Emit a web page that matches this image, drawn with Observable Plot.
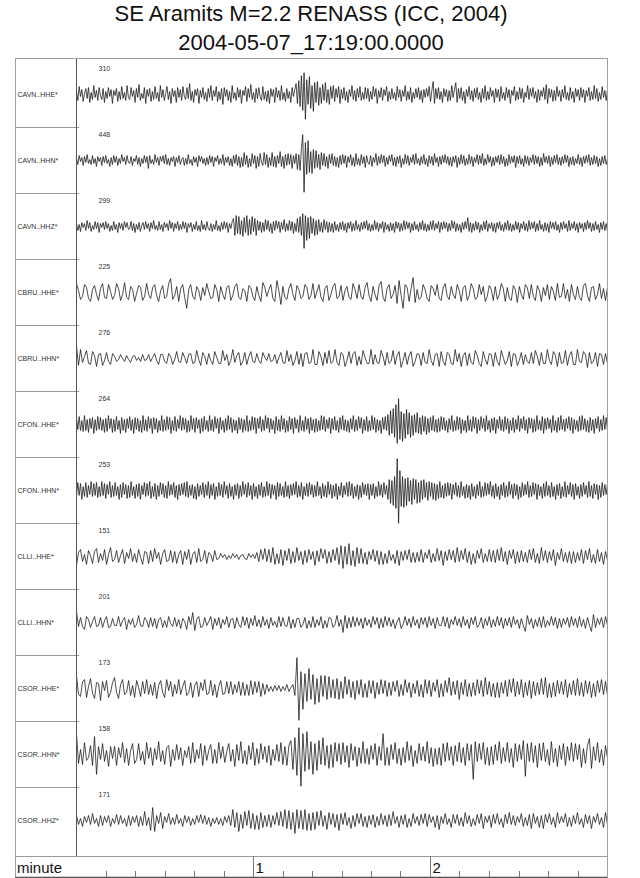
<!DOCTYPE html>
<html>
<head>
<meta charset="utf-8">
<script src="https://cdn.jsdelivr.net/npm/d3@7"></script>
<script src="https://cdn.jsdelivr.net/npm/@observablehq/plot@0.6"></script>
<style>
  html, body { margin: 0; padding: 0; background: #fff; }
  body { font-family: "Liberation Sans", Arial, Helvetica, sans-serif; width: 640px; }
  #head { height: 56px; width: 622px; text-align: center; color: #111; }
  #head .t1 { font-size: 22px; line-height: 28px; }
  #head .t2 { font-size: 22px; line-height: 26px; margin-top: 2px; }
  #chart svg { display: block; }
</style>
</head>
<body>
<div id="head">
  <div class="t1">SE Aramits M=2.2 RENASS (ICC, 2004)</div>
  <div class="t2">2004-05-07_17:19:00.0000</div>
</div>
<div id="chart"></div>
<script>
// Record length in minutes, starting at 2004-05-07 17:19:00
const durationMinutes = 3;

// Channel names, top to bottom
const channels = [
  "CAVN..HHE*", "CAVN..HHN*", "CAVN..HHZ*",
  "CBRU..HHE*", "CBRU..HHN*",
  "CFON..HHE*", "CFON..HHN*",
  "CLLI..HHE*", "CLLI..HHN*",
  "CSOR..HHE*", "CSOR..HHN*", "CSOR..HHZ*"
];

// Peak amplitude printed above each trace
const peakAmplitudes = [310, 448, 299, 225, 276, 264, 253, 151, 201, 173, 158, 171];

// Trace samples (normalised display units, evenly spaced over the record;
// the broadband CAVN and CFON channels are kept at a finer step)
const cavnHHE = [
  3,-6,8,-2,5,-7,1,6,-4,7,-8,2,-5,9,-3,4,-6,7,-1,-5,
  6,-8,3,-4,7,-2,5,-9,4,-1,6,-7,3,-5,8,-4,2,-6,9,-3,
  -5,7,-2,4,-8,6,-3,10,-6,1,-4,7,-9,5,-2,6,-7,3,-5,8,
  -4,2,-7,9,-3,5,-6,1,8,-5,3,-9,6,-2,4,-8,7,-3,5,-6,
  8,-2,-5,7,-4,11,-6,3,-8,5,-1,6,-9,4,-3,7,-5,2,-7,6,
  -3,9,-6,4,-2,8,-7,3,-5,6,-10,7,-2,5,-6,3,-8,9,-4,2,
  -6,7,-3,5,-9,4,-1,8,-7,6,-3,10,-5,2,-8,6,-4,7,-2,-6,
  8,-5,3,-7,4,-9,6,-2,5,-8,7,-3,4,-6,9,-5,2,-7,6,-4,
  3,-8,7,-2,5,11,-9,14,-12,19,-16,22,-25,15,-10,18,-14,9,-17,12,
  -8,13,-11,7,-9,10,-6,12,-8,5,-10,8,-4,9,-7,6,-3,8,-9,5,
  -4,7,-6,3,-8,5,-2,9,-5,4,-7,6,-3,8,-6,2,-5,7,-4,6,
  -7,3,-5,8,-2,6,-9,4,-3,7,-6,5,-1,8,-7,3,-5,6,-4,2,
  -6,8,-3,5,-7,4,-2,9,-6,3,-5,7,-8,2,-4,6,-3,7,-5,4,
  -8,5,-3,6,-2,8,-7,4,13,-9,6,-4,7,-5,3,-8,6,-2,5,-7,
  4,-6,9,-3,5,12,-8,6,-4,7,-6,3,-9,5,-2,8,-5,4,-7,6,
  -3,7,-5,2,-8,6,-4,9,-6,3,-5,7,-2,4,-8,6,-3,5,-7,8,
  -4,2,-6,7,-3,5,-9,4,-1,8,-6,3,-5,7,-4,6,-8,2,-3,9,
  -5,6,-2,7,-4,3,-8,5,-6,4,-2,7,-5,10,-9,6,-3,5,-7,4,
  -6,8,-2,4,-7,5,-3,9,-5,2,-6,7,-4,3,-8,6,-2,5,-6,7,
  -3,5,-8,4,-2,7,-6,3,-5,9,-4,6,-7,2,-5,8,-3,4,-6,5
];
const cavnHHN = [
  2,-4,5,-1,3,-5,4,-2,6,-3,1,-4,5,-3,2,-6,4,-1,3,-5,
  4,-2,5,-3,1,-6,3,-4,5,-2,4,-5,2,-3,6,-1,3,-4,5,-2,
  -3,4,-5,2,-1,5,-4,3,-6,2,-3,5,-2,4,-8,5,-3,1,-4,6,
  -2,3,-5,4,-1,5,-3,6,-4,2,-5,3,-1,4,-6,3,-2,5,-4,1,
  3,-5,2,-4,6,-3,1,-5,4,-2,3,-6,5,-1,4,-3,2,-5,3,-4,
  5,-2,4,-6,3,-1,5,-4,2,-3,6,-5,3,-2,4,-5,2,-6,5,-3,
  6,-5,4,-7,3,-6,8,-4,5,-7,2,-6,7,-3,5,-8,4,-6,7,-2,
  -5,8,-4,6,-7,3,-5,8,-6,4,-7,5,-3,9,-6,4,-8,6,-5,7,
  -4,6,-8,5,-3,7,-9,6,-10,12,26,-32,18,-14,20,-12,9,-13,11,-8,
  10,-7,6,-9,8,-5,7,-6,4,-8,6,-3,7,-5,4,-6,3,-7,5,-4,
  6,-3,5,-7,4,-2,6,-5,3,-6,7,-4,2,-5,6,-3,4,-7,5,-2,
  -4,5,-6,3,-2,7,-5,4,-3,6,-2,5,-6,3,-4,5,-1,6,-5,3,
  -6,4,-3,5,-7,2,-4,6,-3,5,-5,3,-2,6,-4,7,-3,2,-5,4,
  -3,6,-4,2,-6,5,-3,4,-5,7,-2,3,-6,4,-4,5,-2,6,-3,4,
  -5,3,-6,4,-2,5,-7,3,-4,6,-3,5,-5,2,-4,6,-3,4,-6,3,
  -2,6,-4,5,-3,7,-5,2,-4,6,-2,4,-6,3,-5,4,-2,5,-4,6,
  -3,4,-6,2,-5,6,-3,4,-2,5,-7,4,-3,5,-4,2,-6,5,-3,4,
  -5,3,-2,6,-4,5,-3,4,-6,3,-5,7,-2,4,-3,5,-6,3,-4,5,
  -2,6,-4,3,-5,4,-3,6,-2,5,-6,3,-4,4,-5,2,-3,6,-4,3,
  -6,4,-3,5,-2,6,-5,3,-4,5,-3,4,-6,2,-5,4,-3,5,-4,2
];
const cavnHHZ = [
  3,-4,2,-5,4,-1,3,-4,6,-2,4,-5,1,-3,5,-2,4,-6,3,-1,
  4,-3,5,-2,3,-5,1,-4,5,-3,2,-6,4,-2,3,-4,5,-1,4,-3,
  -2,5,-4,3,-6,2,-3,4,-5,1,4,-3,5,-2,3,-5,4,-2,6,-3,
  1,-4,5,-3,2,-5,4,-1,3,-4,6,-2,4,-5,3,-2,5,-4,2,-3,
  5,-2,4,-6,3,-1,4,-5,2,-3,5,-4,1,-5,6,-3,2,-4,5,-2,
  -4,3,-5,2,-3,6,-4,1,-5,4,-3,5,-2,4,-6,3,-2,5,8,-9,
  11,-7,10,-8,6,-10,9,-6,11,-9,7,-8,10,-5,8,-9,6,-4,5,-6,
  4,-5,7,-3,6,-5,3,-7,5,-4,6,-2,5,-6,4,-3,7,-5,3,-4,
  6,-4,5,-7,3,-5,8,-6,10,-9,13,-22,11,-14,9,-12,10,-7,8,-9,
  6,-8,7,-5,4,-6,7,-3,5,-6,4,-5,3,-6,5,-4,2,-5,4,-3,
  5,-4,3,-6,4,-2,5,-5,3,-4,6,-3,2,-5,4,-3,5,-2,6,-4,
  3,-5,2,-4,6,-3,4,-5,3,-2,5,-6,4,-3,2,-5,4,-4,3,-6,
  5,-2,4,-5,3,-4,6,-3,5,-2,4,-6,3,-4,5,-3,2,-5,4,-3,
  6,-4,3,-5,2,-4,5,-3,6,-4,3,-2,5,-6,4,-3,5,-2,4,-5,
  3,-4,6,-2,5,-5,3,-4,2,-6,4,-3,5,-2,9,-5,4,-6,3,-4,
  5,-3,4,-6,2,-4,5,-3,6,-5,3,-2,4,-5,3,-6,4,-2,5,-4,
  2,-5,4,-3,6,-4,3,-5,2,-4,5,-3,4,-6,3,-2,5,-4,3,-5,
  6,-3,4,-2,5,-5,3,-4,6,-3,2,-5,4,-4,3,-6,5,-2,4,-3,
  5,-4,2,-6,4,-3,5,-2,3,-5,6,-4,3,-2,5,-4,3,-6,4,-2,
  3,-5,4,-3,6,-2,4,-5,3,-4,5,-3,2,-6,4,-3,5,-4,3,-5
];
const cbruHHE = [
  9,2,-7,-4,8,5,-6,-9,3,7,-2,-8,4,9,-5,-6,8,1,-7,
  -3,9,4,-8,-2,10,-5,-7,6,3,-9,-1,7,5,-8,-4,9,-2,-6,
  5,8,-3,-9,2,7,-6,-4,9,14,-7,-3,6,-9,4,8,-5,-16,3,
  8,-4,-7,6,2,-8,5,-3,9,1,-6,-5,8,3,-9,6,-2,-7,5,
  7,-8,-3,6,9,-5,-7,4,2,-9,7,5,-4,-8,6,-3,-9,10,5,
  -4,3,8,-6,-9,12,2,-12,6,-5,-7,4,9,-2,-8,7,3,-6,-4,
  8,5,-7,-3,9,-6,1,8,-5,-9,4,7,-8,-2,6,9,-6,-4,7,
  -8,2,6,-5,-7,9,3,-6,8,-4,-7,5,10,-3,-9,6,-2,-8,7,
  11,-5,-9,4,8,-6,-2,7,-11,12,-3,-16,8,5,-9,4,15,-10,3,
  -7,-5,8,3,-6,-9,7,4,-3,8,-6,-8,5,9,-4,-7,6,-2,-6,
  8,2,-9,5,7,-8,-3,9,4,-7,-5,8,-2,6,-9,-4,7,3,-8,
  6,-7,-2,9,4,-9,5,-6,-8,7,3,-10,6,-2,-7,8,5,-6,8,
  -4,-8,7,2,-9,5,-3,8,-7,6,1,-8,9,-5,-4,9,-6,3,-9,
  8,-2,-7,6,-5,-8,7,9,-3,-9,5,6,-7,-2,9,-6,4,-8,5
];
const cbruHHN = [
  13,-7,9,-4,2,8,-5,-6,7,3,-8,4,5,-7,-2,6,-3,-6,5,
  2,-3,-1,4,0,-3,3,-1,-4,2,3,-2,1,-3,4,-2,-1,4,-3,
  1,5,-2,-6,4,4,-3,-5,5,2,-6,-1,7,-3,-4,6,1,-5,4,
  5,-5,-4,8,-1,-7,6,2,-6,5,-2,-6,7,1,-5,-5,8,-2,4,
  -7,-2,9,-4,3,6,-7,-3,6,-6,2,7,-3,-4,5,-2,-5,6,1,
  -2,5,-3,-2,4,-5,1,6,-4,-5,8,-3,4,-7,-2,7,-6,5,-8,
  5,6,-5,-4,9,-6,-6,7,2,-7,6,-5,8,-5,-3,9,-4,-7,6,
  4,-8,-2,7,-5,5,7,-7,2,-6,8,1,-5,-5,9,-6,4,-4,-5,
  8,2,-7,6,-5,-3,8,-6,3,7,-9,-2,6,-6,3,7,-8,-3,5,
  4,-7,6,-4,-5,9,-2,-7,4,5,-8,7,-3,-7,6,4,-5,-6,9,
  -3,5,-8,3,6,-7,5,-4,-6,8,3,-5,-8,7,-1,-6,5,4,-8,
  6,-3,-7,8,1,-6,-2,7,-8,5,4,-7,-2,6,-6,4,-3,-5,6,
  -5,8,2,-7,6,-5,-5,9,-2,-6,7,3,-8,6,-5,-4,8,-7,3,
  7,-6,-6,9,-3,-4,7,4,-9,6,-5,-3,6,-8,5,4,-6,5,-5
];
const cfonHHE = [
  7,-5,8,-6,4,-7,9,-6,5,-8,6,-4,7,-9,5,-6,8,-5,7,-6,
  5,-8,6,-7,9,-4,6,-8,5,-7,8,-5,4,-9,7,-6,5,-8,6,-4,
  8,-6,5,-9,7,-5,6,-7,4,-8,9,-6,5,-7,8,-4,6,-9,7,-5,
  6,-8,4,-6,9,-7,5,-6,8,-5,7,-9,4,-6,8,-7,5,-4,9,-6,
  7,-5,6,-8,4,-7,9,-5,6,-8,7,-4,5,-9,6,-7,8,-5,4,-7,
  9,-6,5,-7,8,-4,6,-9,7,-5,4,-8,6,-6,9,-5,7,-8,5,-6,
  4,-9,7,-5,6,-8,5,-6,9,-7,4,-6,8,-5,7,-9,6,-4,8,-7,
  5,-6,9,-4,7,-8,6,-5,4,-9,8,-6,5,-7,9,-5,6,-8,4,-7,
  8,-5,6,-9,7,-4,5,-8,9,-6,4,-7,8,-5,6,-9,7,-6,5,-8,
  6,-7,4,-6,9,-5,8,-7,5,-4,7,-9,6,-5,8,-6,4,-8,7,-5,
  9,-6,5,-7,4,-8,6,-5,9,-7,5,-6,8,-4,7,-9,5,-6,8,-7,
  4,-6,9,-5,7,-8,5,-6,4,-9,7,-5,8,-6,10,-11,14,-9,16,-13,
  20,-19,26,-15,13,-17,11,-14,15,-10,12,-13,9,-11,10,-8,12,-9,7,-10,
  9,-7,8,-10,6,-8,7,-6,9,-7,5,-8,6,-7,8,-5,7,-6,4,-8,
  6,-5,9,-7,4,-6,8,-5,7,-9,5,-6,4,-8,9,-6,5,-7,8,-4,
  7,-9,5,-6,8,-4,6,-7,9,-5,4,-8,6,-6,7,-9,5,-4,8,-6,
  5,-7,8,-5,6,-9,4,-6,7,-8,5,-5,9,-7,6,-4,8,-6,5,-9,
  7,-4,6,-8,5,-7,9,-5,4,-6,8,-9,6,-5,7,-4,5,-8,9,-6,
  4,-8,7,-6,9,-5,5,-7,6,-4,8,-6,7,-9,5,-5,4,-7,8,-6,
  9,-5,6,-7,4,-8,7,-6,5,-9,6,-4,8,-7,5,-6,9,-5,7,-6
];
const cfonHHN = [
  -6,8,-5,7,-9,4,-6,8,-7,5,-4,9,-6,7,-5,8,-7,4,-6,9,
  -5,7,-8,6,-4,9,-7,5,-6,8,-5,4,-9,6,-7,8,-4,6,-8,5,
  -7,9,-5,4,-8,6,-6,7,-9,5,-4,8,-6,7,-5,9,-8,4,-6,7,
  -9,5,-6,8,-4,7,-7,5,-8,9,-5,6,-4,8,-7,5,-9,6,-5,7,
  -4,8,-6,9,-7,5,-5,6,-8,4,-9,7,-6,5,-4,8,-7,6,-5,9,
  -8,6,-5,7,-9,4,-6,8,-5,6,-7,9,-4,5,-8,7,-6,4,-9,6,
  -5,7,-8,5,-6,9,-4,6,-7,8,-5,5,-9,7,-6,4,-8,6,-5,8,
  -7,4,-6,9,-5,7,-8,6,-4,5,-9,8,-6,7,-5,4,-7,9,-6,5,
  -8,6,-5,7,-4,9,-7,5,-6,8,-9,4,-5,7,-6,8,-4,6,-7,5,
  -6,9,-5,4,-8,7,-6,5,-7,9,-4,6,-8,5,-6,7,-9,4,-5,8,
  -7,5,-4,8,-6,9,-5,7,-8,4,-6,6,-9,5,-7,8,-4,6,-5,7,
  -9,6,-5,7,-8,4,-6,9,-5,6,-7,8,-4,5,-9,11,-13,10,-15,14,
  -18,32,-33,20,-16,14,-17,12,-15,13,-11,10,-14,12,-9,11,-13,8,-12,10,
  -9,11,-7,8,-10,9,-6,8,-9,7,-10,6,-8,9,-7,5,-8,7,-6,8,
  -5,7,-9,6,-4,8,-6,5,-7,9,-5,4,-8,6,-7,5,-9,7,-6,4,
  -8,6,-5,9,-7,4,-6,8,-5,7,-4,9,-6,5,-8,7,-6,4,-9,6,
  -5,8,-7,5,-6,9,-4,6,-8,7,-5,6,-9,4,-7,8,-5,6,-4,9,
  -7,5,-6,8,-4,7,-9,6,-5,4,-8,7,-6,9,-5,5,-7,8,-6,4,
  -9,6,-5,7,-8,4,-6,9,-7,5,-4,8,-6,6,-9,7,-5,4,-8,6,
  -6,8,-4,5,-7,9,-6,5,-8,7,-4,6,-9,5,-7,8,-5,6,-4,7
];
const clliHHE = [
  -9,4,7,-5,2,-8,6,1,-7,5,8,-6,3,-4,7,-8,2,9,-5,
  -3,6,-6,1,7,-7,4,-2,8,-5,3,-6,7,-1,-8,5,4,-7,6,
  -5,8,-2,4,-8,3,7,-5,-4,6,-6,5,-7,2,6,-8,5,-3,7,
  -8,2,5,-6,8,-5,-3,6,-7,4,2,-5,6,-3,-2,3,-1,2,-3,
  1,-2,3,-1,2,-3,1,2,-2,-3,3,-1,2,-2,4,-5,7,-3,8,
  -5,7,-6,9,-8,3,-7,7,-9,6,-4,8,-7,5,-6,9,-4,5,-8,
  6,-6,7,-3,5,-9,6,-5,8,-2,7,-7,5,-6,7,-4,9,-8,11,
  -12,10,-8,13,-9,6,-10,9,-7,8,-7,4,-8,5,-3,7,-5,6,-8,
  5,-8,3,-7,6,-4,2,-7,6,-9,5,-4,6,-3,7,-6,4,-6,4,
  -5,7,-6,4,-2,7,-6,3,-5,8,-4,6,-9,5,-4,7,-3,6,-6,
  9,-5,6,-3,8,-6,5,-8,3,-7,6,-2,8,-6,3,-5,7,-5,6,
  -6,7,-4,9,-5,5,-8,6,-2,7,-7,5,-6,6,-5,4,-6,7,-3,
  8,-6,3,-7,9,-4,6,-6,5,-4,7,-9,4,-3,8,-5,4,-6,5,
  -7,5,-6,4,-4,7,-7,6,-3,8,-6,2,-7,7,-5,4,-8,5,-4
];
const clliHHN = [
  11,-4,5,-4,-7,6,3,-5,1,6,-4,-3,5,-5,2,6,-5,-4,4,
  -3,-3,6,-4,2,5,-7,3,-2,4,-5,-2,7,-3,-4,5,2,-5,5,
  -4,4,-6,3,5,-5,2,-5,6,-1,-4,5,-4,3,-6,4,1,-7,6,
  -2,10,-8,3,6,-5,-4,5,-3,1,6,-7,4,-3,5,-6,3,-2,6,
  -5,3,4,-6,5,-2,-5,6,-3,5,-6,4,-3,7,-4,3,-5,6,-3,
  3,-6,5,-3,1,-5,6,-4,5,-3,-4,6,-6,3,-5,4,4,-5,-2,
  5,-6,2,-5,6,-5,3,-3,6,-6,2,-5,5,4,-5,-2,7,-4,3,
  -10,7,-6,5,-5,6,-4,5,-3,4,-6,5,-3,3,-5,6,-2,5,-6,
  4,-5,6,-3,5,-4,3,-6,1,5,-6,-2,6,-3,4,-5,6,-3,3,
  -6,5,-2,5,-5,6,-3,4,-6,5,-3,-3,6,-4,5,-6,3,-2,6,
  -3,4,-5,6,-3,3,-6,5,-2,6,-5,-2,5,-6,4,-3,6,-5,3,
  -4,6,-3,5,-6,4,-3,5,-5,6,-2,3,-6,4,-3,-9,7,-2,4,
  -6,3,-4,5,-5,6,-5,2,-3,6,-3,5,-6,4,-5,4,-2,5,-5,
  6,-3,4,-5,6,-4,3,-6,5,-3,-9,8,-5,4,-2,5,-5,6,-3
];
const csorHHE = [
  13,-6,-8,7,9,-9,2,10,-5,-10,6,5,-12,7,-2,8,-9,-4,6,
  11,-4,-10,4,9,-6,-4,8,-7,3,-9,8,1,-8,7,-5,9,-6,4,
  -7,6,-10,3,8,-4,-9,9,-2,7,-8,4,-5,9,-6,2,8,-7,-4,
  6,-9,3,7,-8,6,-2,9,-6,-5,8,-7,4,-9,2,8,-6,-5,7,
  -5,7,-6,4,-4,7,-7,6,-7,4,-7,8,-6,7,-4,7,-8,5,-6,
  4,-3,2,-3,3,-2,3,-3,2,-2,4,-3,1,4,-7,31,-32,17,-21,
  15,-13,20,-11,14,-16,10,-14,13,-8,13,-11,12,-9,9,-10,10,-11,7,
  -10,12,-6,9,-9,7,-11,8,-6,9,-9,5,-9,8,-5,8,-10,6,-6,
  9,-5,8,-8,6,-7,7,-3,8,-8,4,-7,9,-4,6,-9,5,-5,8,
  -8,4,-9,9,-5,8,-8,6,-3,9,-9,5,-8,8,-4,11,-7,7,-6,
  8,-11,6,-6,9,-8,5,-8,6,-7,9,-5,8,-8,11,-6,7,-8,5,
  -9,6,-9,6,-5,8,-8,9,-4,10,-8,7,-6,9,-9,6,-7,8,-10,
  7,-7,6,-6,10,-6,11,-9,5,-9,6,-8,8,-5,7,-6,9,-9,5,
  -6,8,-7,10,-7,6,-8,8,-5,7,-9,5,-8,8,-4,9,-6,7,-7
];
const csorHHN = [
  21,-9,5,-10,12,-6,-3,9,-11,18,-20,8,-5,11,-7,4,-12,8,-4,
  8,-11,7,-3,12,-8,6,-11,4,11,-9,-5,11,-6,3,-10,12,-4,7,
  -11,6,-5,13,-7,4,-10,7,9,-12,5,-6,10,-5,7,-11,4,-3,8,
  -9,12,-8,5,-4,11,-11,9,-6,4,10,-9,5,-9,12,-4,8,-8,3,
  11,-7,5,-12,10,-6,13,-9,4,-10,9,-5,12,-11,6,-9,11,-5,8,
  -8,9,-11,5,-6,10,-7,12,-10,8,-11,9,14,-15,17,-21,27,-32,21,
  -17,23,-15,13,-20,11,-16,14,-10,17,-11,9,-14,10,-13,12,-7,11,-10,
  12,-8,9,-13,11,-6,8,-12,7,-9,13,-9,6,-10,9,-5,11,-11,8,
  -6,21,-11,7,-11,10,-5,12,-9,6,-11,7,-8,13,-6,9,-12,4,-9,
  11,-6,8,-7,13,-9,7,-12,6,-10,7,-11,11,-7,12,-6,8,-11,9,
  -7,12,-8,7,-11,11,-6,10,-25,13,-7,11,-5,12,-10,7,-11,8,-10,
  10,-6,13,-9,7,-7,12,-8,6,-13,11,-7,10,-5,14,-22,11,-7,12,
  -8,9,-13,11,-6,12,-7,5,-11,13,-8,6,-12,9,-5,11,-11,8,-6,
  12,-7,11,-5,10,-13,6,-9,9,16,-14,8,-6,12,-8,5,-11,9,-4
];
const csorHHZ = [
  5,-4,2,-6,4,-2,5,-4,7,-3,2,-6,5,-5,4,-2,5,-6,2,
  -3,6,-4,5,-3,2,-6,5,-5,4,-2,5,-6,4,-5,9,-5,3,-10,
  13,-11,5,-3,8,-8,4,-2,7,-4,3,-4,6,-3,2,-6,5,-2,4,
  -5,2,-4,5,-2,6,-3,5,-4,3,-6,2,-3,3,-4,2,-5,4,-2,
  5,-5,11,-7,8,-11,6,-8,9,-5,10,-8,7,-9,5,-9,8,-7,5,
  -6,6,-7,5,-4,8,-5,9,-6,11,-8,10,-9,8,-13,11,-8,10,-9,
  11,-10,7,-10,8,-9,9,-5,10,-6,5,-9,8,-4,7,-7,6,-10,7,
  -4,8,-5,3,-8,5,-6,7,-3,7,-6,4,-7,5,-4,6,-7,4,-5,
  7,-4,5,-6,6,-5,9,-3,4,-7,5,-4,6,-7,2,-6,7,-3,4,
  -5,6,-3,7,-6,6,-2,4,-7,5,-9,4,-3,7,-4,2,-7,6,-3,
  6,-5,3,-6,8,-3,5,-6,2,-5,6,-3,7,-8,4,-2,5,-7,6,
  -3,7,-4,2,-7,6,-3,8,-4,5,-5,4,-2,7,-6,3,-5,6,-8,
  7,-3,4,-7,5,-8,6,-2,7,-4,3,-7,8,-3,4,-2,7,-6,3,
  -6,5,-3,8,-4,2,-7,6,-3,5,-8,4,-2,7,-4,3,-7,8,-4
];

const traces = [cavnHHE, cavnHHN, cavnHHZ, cbruHHE, cbruHHN, cfonHHE, cfonHHN,
                clliHHE, clliHHN, csorHHE, csorHHN, csorHHZ];

// Long-format table: one row per sample
const samples = traces.flatMap((values, k) =>
  values.map((v, i) => ({channel: channels[k], minute: i * durationMinutes / (values.length - 1), v}))
);
const labels = channels.map((channel, k) => ({channel, peak: peakAmplitudes[k]}));

// Layout of the record section
const W = 640, H = 822;
const frameLeft = 15, plotLeft = 76, plotRight = 607;
const rowsTop = 2, rowsBottom = 800, axisBottom = 821;
const rowHalf = (rowsBottom - rowsTop) / channels.length / 2;

const chart = Plot.plot({
  width: W,
  height: H,
  marginLeft: plotLeft,
  marginRight: W - plotRight,
  marginTop: rowsTop,
  marginBottom: H - rowsBottom,
  style: {fontFamily: "'Liberation Sans', Arial, Helvetica, sans-serif", background: "#fff"},
  x: {domain: [0, durationMinutes], axis: null},
  y: {domain: [-rowHalf, rowHalf], axis: null},
  fy: {domain: channels, axis: null, padding: 0},
  marks: [
    Plot.line(samples, {x: "minute", y: "v", fy: "channel", stroke: "#111", strokeWidth: 0.75, curve: "linear"}),
    Plot.text(labels, {fy: "channel", text: "channel", frameAnchor: "left", dx: frameLeft + 2 - plotLeft,
                       textAnchor: "start", fontSize: 7, fill: "#333"}),
    Plot.text(labels, {fy: "channel", text: d => String(d.peak), frameAnchor: "top-left", dx: 22, dy: 7,
                       textAnchor: "start", lineAnchor: "middle", fontSize: 7, fill: "#333"})
  ]
});

// Frame, row separators and the minute axis
const svg = d3.select(chart);
const xs = chart.scale("x");
const fys = chart.scale("fy");
const g = svg.append("g").attr("fill", "none");

// channel row separators in the label column, with a small tick into the plot
channels.forEach((c, k) => {
  if (k === 0) return;
  const y = Math.round(fys.apply(c)) + 0.5;
  g.append("line").attr("x1", frameLeft).attr("x2", plotLeft + 3).attr("y1", y).attr("y2", y)
    .attr("stroke", "#9a9a9a");
});
// label column border
g.append("line").attr("x1", plotLeft + 0.5).attr("x2", plotLeft + 0.5)
  .attr("y1", rowsTop).attr("y2", rowsBottom).attr("stroke", "#555");
// outer frame
g.append("rect").attr("x", frameLeft + 0.5).attr("y", rowsTop + 0.5)
  .attr("width", plotRight - frameLeft).attr("height", axisBottom - rowsTop - 0.5)
  .attr("stroke", "#a0a0a0");
// axis row top and bottom
g.append("line").attr("x1", frameLeft).attr("x2", plotRight + 0.5)
  .attr("y1", rowsBottom + 0.5).attr("y2", rowsBottom + 0.5).attr("stroke", "#9a9a9a");
g.append("line").attr("x1", frameLeft).attr("x2", plotRight + 0.5)
  .attr("y1", axisBottom + 0.5).attr("y2", axisBottom + 0.5).attr("stroke", "#555");

// minute ticks every 10 s
const minorTicks = d3.range(1, durationMinutes * 6).filter(k => k % 6 !== 0).map(k => k / 6);
const majorTicks = d3.range(1, durationMinutes);
minorTicks.forEach(m => {
  const x = Math.round(xs.apply(m)) + 0.5;
  g.append("line").attr("x1", x).attr("x2", x).attr("y1", axisBottom - 6).attr("y2", axisBottom)
    .attr("stroke", "#777");
});
const axisText = svg.append("g").attr("text-anchor", "start").attr("fill", "#111").attr("font-size", 15);
majorTicks.forEach(m => {
  const x = Math.round(xs.apply(m)) + 0.5;
  g.append("line").attr("x1", x).attr("x2", x).attr("y1", rowsBottom).attr("y2", axisBottom)
    .attr("stroke", "#777");
  axisText.append("text").attr("x", x + 2).attr("y", axisBottom - 4).text(String(m));
});
axisText.append("text").attr("x", frameLeft + 2).attr("y", axisBottom - 4).text("minute");

document.getElementById("chart").appendChild(chart);
</script>
</body>
</html>
